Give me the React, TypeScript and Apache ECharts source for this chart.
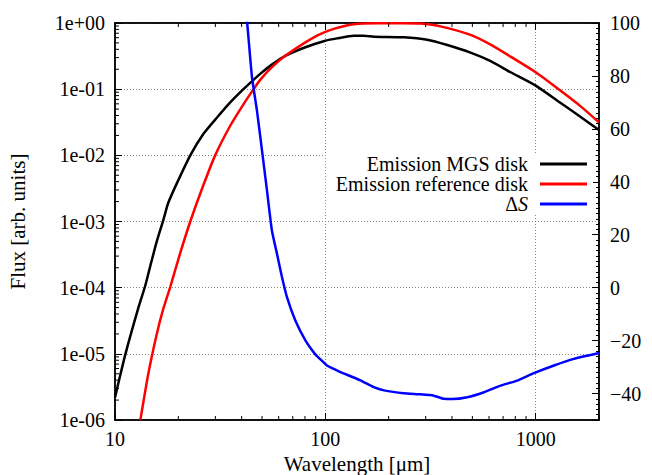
import React, { useEffect, useRef } from "react";
import * as echarts from "echarts";

// Emission MGS disk (black)
const mgsWavelength = [10, 11.2, 12.9, 13.9, 14.7, 15.8, 17.0, 17.9, 19.7, 22.8, 26.3, 30.5, 35.3, 40.8, 49.0, 55.7, 64.5, 80.4, 100, 113.7, 136.5, 152, 170, 236, 305, 380, 490, 611, 760, 1000, 1268, 1637, 2000];
const mgsFlux = [2.2e-6, 9.8e-6, 4.9e-5, 1.05e-4, 2.1e-4, 5.0e-4, 1.07e-3, 1.9e-3, 3.8e-3, 1.0e-2, 2.1e-2, 3.7e-2, 6.3e-2, 0.10, 0.17, 0.235, 0.319, 0.43, 0.54, 0.586, 0.64, 0.64, 0.62, 0.607, 0.558, 0.464, 0.356, 0.265, 0.18, 0.113, 0.067, 0.038, 0.0242];

// Emission reference disk (red)
const refWavelength = [13.2, 14.4, 15.8, 17.0, 18.3, 20.4, 22.8, 25.9, 29.9, 35.3, 40.8, 45.6, 49.0, 55.7, 64.5, 80.4, 94.5, 111.6, 136.5, 176, 236, 283, 353, 490, 611, 760, 1000, 1268, 1637, 2000];
const refFlux = [1.0e-6, 5.0e-6, 2.0e-5, 4.9e-5, 1.02e-4, 3.3e-4, 1.0e-3, 3.1e-3, 9.9e-3, 2.8e-2, 5.9e-2, 0.10, 0.138, 0.215, 0.319, 0.51, 0.68, 0.83, 0.96, 0.995, 0.995, 0.98, 0.89, 0.66, 0.47, 0.31, 0.18, 0.103, 0.055, 0.0315];

// Delta S (blue, right axis)
const dsWavelength = [41.8, 42.4, 44.8, 47.3, 50.0, 52.8, 55.7, 58.9, 62.2, 65.7, 72.0, 80.4, 89.6, 94.5, 101.9, 111.6, 117.9, 146.7, 170, 190, 236, 283, 328, 366, 401, 473, 568, 681, 818, 981, 1222, 1521, 2000];
const dsValues = [104, 100.9, 79.5, 66.9, 51.8, 36.7, 21.6, 12.8, 4.0, -3.6, -12.4, -19.9, -25.2, -27.0, -29.4, -31.0, -31.9, -35.0, -37.6, -38.8, -39.9, -40.3, -40.8, -42.0, -42.1, -41.4, -39.5, -37.0, -35.1, -32.3, -29.4, -26.9, -24.7];

// Axis ranges and ticks
const xRange = [10, 2000];
const fluxRange = [1e-6, 1];
const dsRange = [-50, 100];
const xMinorTicks = [20, 30, 40, 50, 60, 70, 80, 90, 200, 300, 400, 500, 600, 700, 800, 900, 2000];
const fluxMinorTicks = [
  2e-6, 3e-6, 4e-6, 5e-6, 6e-6, 7e-6, 8e-6, 9e-6,
  2e-5, 3e-5, 4e-5, 5e-5, 6e-5, 7e-5, 8e-5, 9e-5,
  2e-4, 3e-4, 4e-4, 5e-4, 6e-4, 7e-4, 8e-4, 9e-4,
  2e-3, 3e-3, 4e-3, 5e-3, 6e-3, 7e-3, 8e-3, 9e-3,
  2e-2, 3e-2, 4e-2, 5e-2, 6e-2, 7e-2, 8e-2, 9e-2,
  2e-1, 3e-1, 4e-1, 5e-1, 6e-1, 7e-1, 8e-1, 9e-1,
];

const seriesNames = ["Emission MGS disk", "Emission reference disk", "ΔS"];

const FONT = "'Liberation Serif', 'DejaVu Serif', serif";

function fluxLabel(v: number): string {
  const e = Math.round(Math.log10(v));
  const a = Math.abs(e);
  return "1e" + (e >= 0 ? "+" : "-") + (a < 10 ? "0" + a : String(a));
}

export default function App() {
  const ref = useRef<HTMLDivElement>(null);
  useEffect(() => {
    if (!ref.current) return;
    const chart = echarts.init(ref.current, null, { renderer: "svg" });

    const tickData: number[][] = [];
    xMinorTicks.forEach((x) => tickData.push([x, fluxRange[0], 0]));
    fluxMinorTicks.forEach((y) => tickData.push([xRange[0], y, 1]));

    const axisLine = { show: true, onZero: false, lineStyle: { color: "#000", width: 1.5 } };
    const labelStyle = { color: "#000", fontFamily: FONT, fontSize: 20 };
    const nameStyle = { color: "#000", fontFamily: FONT, fontSize: 21 };
    const gridLine = { show: true, lineStyle: { color: "#888", type: [1, 2], width: 1 } };

    chart.setOption({
      animation: false,
      backgroundColor: "#fff",
      grid: {
        left: 115,
        right: 53,
        top: 23,
        bottom: 55,
        show: true,
        borderColor: "#000",
        borderWidth: 1.5,
        containLabel: false,
        outerBoundsMode: "none",
      },
      legend: {
        show: true,
        data: seriesNames,
        orient: "vertical",
        align: "right",
        right: 59,
        top: 153,
        padding: [1, 6, 1, 10],
        icon: "rect",
        itemWidth: 47,
        itemHeight: 3,
        itemGap: 0,
        backgroundColor: "#fff",
        selectedMode: false,
        textStyle: {
          color: "#000",
          fontFamily: FONT,
          fontSize: 20,
          padding: [0, 7, 0, 0],
          rich: {
            d: { fontFamily: FONT, fontSize: 20, color: "#000" },
            s: { fontFamily: FONT, fontSize: 20, fontStyle: "italic", color: "#000" },
          },
        },
        formatter: (name: string) => (name === "ΔS" ? "{d|Δ}{s|S}" : name),
      },
      xAxis: [
        {
          type: "log",
          logBase: 10,
          min: xRange[0],
          max: xRange[1],
          position: "bottom",
          name: "Wavelength [μm]",
          nameLocation: "middle",
          nameGap: 31,
          nameTextStyle: nameStyle,
          axisLine,
          axisTick: { show: true, inside: true, length: 7, lineStyle: { color: "#000" } },
          axisLabel: { ...labelStyle, margin: 9, showMaxLabel: false, formatter: (v: number) => String(Math.round(v)) },
          splitLine: gridLine,
        },
        {
          type: "log",
          logBase: 10,
          min: xRange[0],
          max: xRange[1],
          position: "top",
          axisLine,
          axisTick: { show: true, inside: true, length: 7, lineStyle: { color: "#000" } },
          axisLabel: { show: false },
          splitLine: { show: false },
        },
      ],
      yAxis: [
        {
          type: "log",
          logBase: 10,
          min: fluxRange[0],
          max: fluxRange[1],
          position: "left",
          name: "Flux [arb. units]",
          nameLocation: "middle",
          nameGap: 87,
          nameTextStyle: nameStyle,
          axisLine,
          axisTick: { show: true, inside: true, length: 7, lineStyle: { color: "#000" } },
          axisLabel: { ...labelStyle, margin: 10, formatter: (v: number) => fluxLabel(v) },
          splitLine: gridLine,
        },
        {
          type: "value",
          min: dsRange[0],
          max: dsRange[1],
          splitNumber: 7,
          position: "right",
          axisLine,
          axisTick: { show: true, inside: true, length: 7, lineStyle: { color: "#000" } },
          minorTick: { show: true, splitNumber: 10, length: 3, lineStyle: { color: "#000" } },
          axisLabel: {
            ...labelStyle,
            margin: 11,
            showMinLabel: false,
            formatter: (v: number) => (v < 0 ? "\u2212" + Math.abs(v) : String(v)),
          },
          splitLine: { show: false },
        },
      ],
      series: [
        {
          type: "custom",
          name: "minorTicks",
          xAxisIndex: 0,
          yAxisIndex: 0,
          silent: true,
          clip: false,
          z: 5,
          data: tickData,
          renderItem: (params: any, api: any) => {
            const kind = api.value(2);
            const style = { stroke: "#000", lineWidth: 1 };
            if (kind === 0) {
              const x = api.value(0);
              const pb = api.coord([x, fluxRange[0]]);
              const pt = api.coord([x, fluxRange[1]]);
              return {
                type: "group",
                children: [
                  { type: "line", shape: { x1: pb[0], y1: pb[1], x2: pb[0], y2: pb[1] - 4 }, style },
                  { type: "line", shape: { x1: pt[0], y1: pt[1], x2: pt[0], y2: pt[1] + 4 }, style },
                ],
              };
            }
            const y = api.value(1);
            const pl = api.coord([xRange[0], y]);
            return {
              type: "line",
              shape: { x1: pl[0], y1: pl[1], x2: pl[0] + 4, y2: pl[1] },
              style,
            };
          },
        },
        {
          type: "line",
          name: seriesNames[0],
          xAxisIndex: 0,
          yAxisIndex: 0,
          symbol: "none",
          smooth: 0.2,
          lineStyle: { color: "#000", width: 2.5 },
          itemStyle: { color: "#000" },
          data: mgsWavelength.map((w, i) => [w, mgsFlux[i]]),
        },
        {
          type: "line",
          name: seriesNames[1],
          xAxisIndex: 0,
          yAxisIndex: 0,
          symbol: "none",
          smooth: 0.2,
          lineStyle: { color: "#ff0000", width: 2.5 },
          itemStyle: { color: "#ff0000" },
          data: refWavelength.map((w, i) => [w, refFlux[i]]),
        },
        {
          type: "line",
          name: seriesNames[2],
          xAxisIndex: 0,
          yAxisIndex: 1,
          symbol: "none",
          smooth: 0.15,
          clip: true,
          lineStyle: { color: "#0000ff", width: 2.5 },
          itemStyle: { color: "#0000ff" },
          data: dsWavelength.map((w, i) => [w, dsValues[i]]),
        },
      ],
    });
    return () => chart.dispose();
  }, []);
  return (
    <div
      ref={ref}
      style={{ position: "fixed", left: 0, top: 0, width: 652, height: 475, background: "#fff" }}
    />
  );
}
